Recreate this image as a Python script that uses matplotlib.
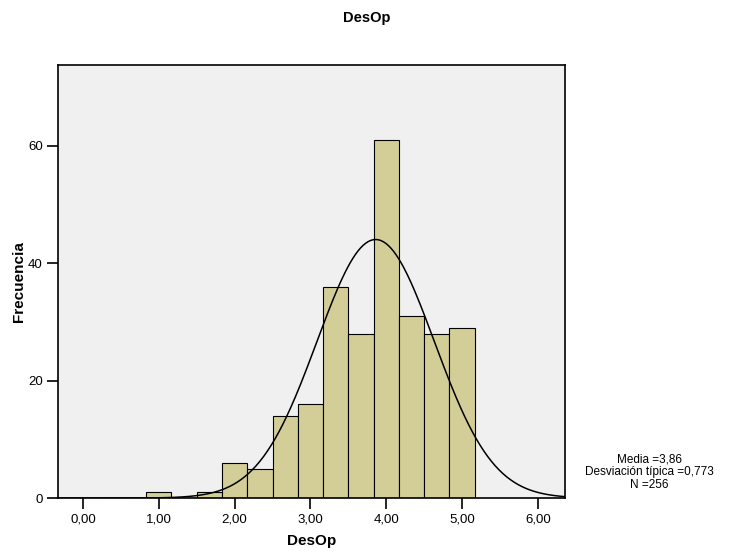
import numpy as np
import matplotlib
matplotlib.use("Agg")
import matplotlib.pyplot as plt

# bin centres (width 1/3) and counts
centres = [1.0, 1.333, 1.667, 2.0, 2.333, 2.667, 3.0, 3.333, 3.667, 4.0, 4.333, 4.667, 5.0]
counts = [1, 0, 1, 6, 5, 14, 16, 36, 28, 61, 31, 28, 29]
binWidth = 1 / 3
media = 3.86
desv = 0.773
n = 256
xticks = [0, 1, 2, 3, 4, 5, 6]
xtickLabels = ["0,00", "1,00", "2,00", "3,00", "4,00", "5,00", "6,00"]
yticks = [0, 20, 40, 60]

barColor = "#d3ce98"
bgColor = "#f0f0f0"

plt.rcParams['font.family'] = ['Liberation Sans', 'DejaVu Sans']

fig = plt.figure(figsize=(7.34, 5.54), dpi=100)
ax = fig.add_axes([0.079, 0.101, 0.691, 0.782])
ax.set_facecolor(bgColor)

ax.bar(centres, counts, width=binWidth, color=barColor, edgecolor="black", linewidth=0.8, zorder=2)

xmin, xmax = -0.33, 6.36
xs = np.linspace(xmin, xmax, 400)
curve = n * binWidth * np.exp(-0.5 * ((xs - media) / desv) ** 2) / (desv * np.sqrt(2 * np.pi))
ax.plot(xs, curve, color="black", linewidth=1.1, zorder=3)

ax.set_xlim(xmin, xmax)
ax.set_ylim(0, 73.8)
ax.set_xticks(xticks)
ax.set_xticklabels(xtickLabels)
ax.set_yticks(yticks)
ax.tick_params(axis="both", direction="out", length=8, width=1.2, labelsize=9.5, pad=3, colors="black")
for s in ax.spines.values():
    s.set_linewidth(1.2)

ax.set_xlabel("DesOp", fontsize=11, fontweight="bold")
ax.xaxis.set_label_coords(0.5, -0.083)
ax.set_ylabel("Frecuencia", fontsize=11, fontweight="bold")
ax.yaxis.set_label_coords(-0.063, 0.5)

fig.text(0.5, 0.968, "DesOp", ha="center", va="center", fontsize=10.5, fontweight="bold")
fig.text(0.885, 0.148, "Media =3,86\nDesviación típica =0,773\nN =256",
         ha="center", va="center", fontsize=8.5, linespacing=1.1)

fig.savefig("out.png", dpi=100)
